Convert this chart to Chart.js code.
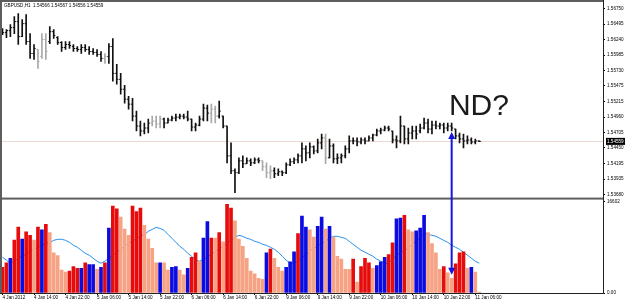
<!DOCTYPE html>
<html>
<head>
<meta charset="utf-8">
<script src="https://cdn.jsdelivr.net/npm/chart.js@4.4.1/dist/chart.umd.min.js"></script>
<style>
  html, body { margin: 0; padding: 0; background: #fff; }
  #wrap { position: relative; width: 625px; height: 305px; }
</style>
</head>
<body>
<div id="wrap"><canvas id="chart" width="625" height="305"></canvas></div>
<script>
// GBPUSD H1, one row per hour
const opens = [
  1.56372,1.56356,1.56389,1.56438,1.56537,1.56290,1.56504,1.56208,1.56011,1.56077,
  1.55962,1.56241,1.56208,1.56372,1.56274,1.56192,1.56110,1.56159,1.56126,1.56093,
  1.56077,1.56110,1.56077,1.56044,1.56028,1.55995,1.55929,1.55962,1.56126,1.55683,
  1.55584,1.55420,1.55256,1.55174,1.54977,1.54813,1.54731,1.54780,1.54862,1.54895,
  1.54846,1.54928,1.54862,1.54911,1.54944,1.54960,1.54977,1.54960,1.54928,1.54796,
  1.54829,1.54928,1.55108,1.55026,1.55092,1.54977,1.54977,1.54813,1.54320,1.54074,
  1.54041,1.54238,1.54189,1.54238,1.54205,1.54254,1.54238,1.54140,1.54041,1.54074,
  1.54025,1.54058,1.54041,1.54172,1.54222,1.54254,1.54320,1.54435,1.54369,1.54468,
  1.54402,1.54534,1.54616,1.54287,1.54484,1.54271,1.54287,1.54320,1.54435,1.54567,
  1.54567,1.54550,1.54583,1.54567,1.54616,1.54665,1.54731,1.54747,1.54780,1.54731,
  1.54583,1.54567,1.54813,1.54599,1.54698,1.54731,1.54731,1.54780,1.54862,1.54763,
  1.54829,1.54813,1.54829,1.54780,1.54813,1.54763,1.54649,1.54599,1.54567,1.54583,
  1.54550,1.54566
];
const highs = [
  1.56422,1.56405,1.56487,1.56619,1.56668,1.56569,1.56652,1.56340,1.56159,1.56077,
  1.56340,1.56340,1.56455,1.56405,1.56290,1.56208,1.56208,1.56208,1.56159,1.56126,
  1.56159,1.56159,1.56126,1.56093,1.56077,1.56044,1.56011,1.56175,1.56258,1.55831,
  1.55683,1.55486,1.55305,1.55272,1.55059,1.54895,1.54862,1.54928,1.54977,1.54977,
  1.54977,1.54944,1.54944,1.54977,1.55010,1.55010,1.55010,1.55059,1.54928,1.54862,
  1.54977,1.55174,1.55157,1.55174,1.55141,1.55223,1.54977,1.54813,1.54534,1.54107,
  1.54287,1.54320,1.54287,1.54271,1.54287,1.54287,1.54238,1.54205,1.54156,1.54123,
  1.54107,1.54074,1.54205,1.54271,1.54287,1.54353,1.54534,1.54484,1.54534,1.54484,
  1.54599,1.54681,1.54681,1.54599,1.54517,1.54353,1.54353,1.54484,1.54649,1.54616,
  1.54616,1.54616,1.54616,1.54649,1.54681,1.54763,1.54780,1.54813,1.54813,1.54731,
  1.54649,1.54977,1.54813,1.54780,1.54813,1.54813,1.54846,1.54944,1.54928,1.54895,
  1.54895,1.54862,1.54862,1.54862,1.54862,1.54763,1.54698,1.54681,1.54649,1.54616,
  1.54599,1.54567
];
const lows = [
  1.56323,1.56274,1.56290,1.56340,1.56159,1.56290,1.56159,1.55929,1.55913,1.55765,
  1.55929,1.55913,1.56175,1.56258,1.56159,1.56044,1.56077,1.56093,1.56044,1.56044,
  1.56011,1.56044,1.55995,1.55995,1.55962,1.55880,1.55847,1.55847,1.55552,1.55502,
  1.55338,1.55190,1.55092,1.54895,1.54731,1.54649,1.54681,1.54698,1.54813,1.54780,
  1.54780,1.54780,1.54862,1.54895,1.54895,1.54928,1.54928,1.54895,1.54731,1.54731,
  1.54813,1.54895,1.54895,1.54862,1.54862,1.54944,1.54780,1.54205,1.54025,1.53713,
  1.54025,1.54123,1.54189,1.54156,1.54189,1.54205,1.54074,1.53959,1.53943,1.53959,
  1.53992,1.53992,1.54025,1.54156,1.54189,1.54205,1.54205,1.54238,1.54287,1.54353,
  1.54369,1.54435,1.54189,1.54287,1.54205,1.54189,1.54205,1.54287,1.54369,1.54517,
  1.54484,1.54517,1.54517,1.54567,1.54567,1.54649,1.54681,1.54731,1.54731,1.54534,
  1.54452,1.54534,1.54517,1.54517,1.54599,1.54599,1.54698,1.54763,1.54698,1.54681,
  1.54763,1.54763,1.54698,1.54731,1.54731,1.54599,1.54534,1.54452,1.54517,1.54517,
  1.54517,1.54556
];
const closes = [
  1.56356,1.56389,1.56438,1.56537,1.56290,1.56504,1.56208,1.56011,1.56093,1.55880,
  1.56241,1.56044,1.56372,1.56307,1.56192,1.56110,1.56159,1.56143,1.56093,1.56077,
  1.56110,1.56077,1.56044,1.56028,1.55995,1.55929,1.55962,1.56126,1.55683,1.55584,
  1.55420,1.55256,1.55174,1.54977,1.54813,1.54731,1.54780,1.54862,1.54895,1.54846,
  1.54928,1.54862,1.54911,1.54944,1.54960,1.54977,1.54960,1.54928,1.54796,1.54829,
  1.54928,1.55108,1.55026,1.55092,1.54977,1.55059,1.54813,1.54320,1.54074,1.54041,
  1.54238,1.54189,1.54238,1.54205,1.54254,1.54238,1.54140,1.54041,1.54074,1.54025,
  1.54058,1.54041,1.54172,1.54222,1.54254,1.54320,1.54435,1.54369,1.54468,1.54402,
  1.54534,1.54616,1.54287,1.54484,1.54271,1.54287,1.54320,1.54435,1.54567,1.54567,
  1.54550,1.54583,1.54567,1.54616,1.54665,1.54731,1.54747,1.54780,1.54763,1.54583,
  1.54567,1.54813,1.54599,1.54698,1.54731,1.54681,1.54780,1.54862,1.54763,1.54829,
  1.54813,1.54829,1.54780,1.54813,1.54780,1.54649,1.54599,1.54567,1.54583,1.54550,
  1.54567,1.54559
];
// bars drawn in the pale grey colour
const paleBars = [9,10,11,26,38,39,40,53,54,66,67,68,82];

// tick volume and its average (lower pane)
const volumes = [
  4650,5480,6310,9630,11950,9800,11120,10460,9630,11950,
  11460,12450,10960,7300,6810,4150,3820,3980,4810,4480,
  4480,5480,5150,5150,4320,4650,5480,11790,15770,15270,
  13780,11620,10460,15770,14780,15440,12290,9800,8130,5480,
  5480,5480,4150,4650,4810,4150,3320,4480,6470,7300,
  5810,9960,12950,9960,9960,10960,9300,16100,15440,13120,
  9800,8470,6310,3980,3490,2660,2490,7300,7970,6310,
  4650,3980,4650,5640,7470,10790,13950,11950,11460,10130,
  12120,13780,11620,12120,10130,6640,6140,4320,4320,6140,
  1990,4810,6310,5480,4480,4980,5640,6470,6970,9130,
  13450,13610,14110,11460,11120,11290,11790,14110,10960,8970,
  7300,4320,4810,3650,2660,5310,7300,7470,4480,4650,
  3820,170
];
// r = red, b = blue, s = pale (salmon) volume bar
const volKind = ("rrbrrbrrsr" + "brsssssrrr" + "brbbsbrbrr" + "sssrrrssss" +
  "bssbbssbrr" + "sbbrsrsrrs" + "sssssssbrs" + "ssbbbrbbss" + "bbsbsssssr" +
  "srrrsbbbrr" + "bbrssbbbss" + "ssrssrrrsb" + "ss").split("");
const volAverage = [
  6500,5960,5410,5770,6320,6680,7040,7580,7940,8300,
  8660,9020,9200,9560,9750,9750,9560,9200,8660,8300,
  7760,7220,6860,6320,5770,5410,5770,6320,6860,7400,
  7940,8480,9020,9380,9930,10290,10650,11190,11550,11910,
  11730,11370,10650,9930,9200,8480,7940,7220,6680,5960,
  5770,6140,6500,7040,7580,7940,8480,9020,9560,10110,
  10470,10290,9930,9750,9380,9200,8840,8660,8300,7940,
  7400,6680,5960,5410,5410,5770,6320,7040,7580,8120,
  8480,9020,9380,9930,10290,10290,10110,9930,9380,8840,
  8300,7760,7400,7040,6680,6140,5770,5410,5410,6140,
  6860,7220,7760,8120,8840,9380,10110,10830,10650,10470,
  10290,9930,9560,9200,8660,8300,7940,7400,6860,6320,
  5770,5410
];

// axes
const timeTickIdx = [0,8,16,24,32,40,48,56,64,72,80,88,96,104,112,120];
const timeLabels = ["4 Jan 2012","4 Jan 14:00","4 Jan 22:00","5 Jan 06:00","5 Jan 14:00",
  "5 Jan 22:00","6 Jan 06:00","6 Jan 14:00","6 Jan 22:00","9 Jan 06:00","9 Jan 14:00",
  "9 Jan 22:00","10 Jan 06:00","10 Jan 14:00","10 Jan 22:00","11 Jan 06:00"];
const priceTicks = [1.56750,1.56495,1.56240,1.55985,1.55730,1.55475,1.55215,
  1.54960,1.54705,1.54450,1.54195,1.53935,1.53680];
const priceTickLabels = ["1.56750","1.56495","1.56240","1.55985","1.55730","1.55475","1.55215",
  "1.54960","1.54705","1.54450","1.54195","1.53935","1.53680"];
const volTicks = [0, 16602];
const volTickLabels = ["0.00", "16602"];

const symbolTitle = "GBPUSD,H1  1.54566 1.54567 1.54556 1.54559";
const note = { text: "ND?", index: 113.3, price: 1.5499 };
const arrowNote = { index: 114, fromPrice: 1.54712, toVolume: 3300 };

const FONT = "'Liberation Sans', Arial, sans-serif";
const small = { family: FONT, size: 4.6 };

const idx = opens.map((_, i) => i);
const barTone = i => paleBars.includes(i) ? "#a9a9a9" : "#111111";
const volColor = { r: "#e60c0c", b: "#0c0ce0", s: "#f6a284" };

const mt4 = {
  id: "mt4",
  beforeDatasetsDraw(chart) {
    // bid line
    const { ctx, chartArea: a, scales } = chart;
    const y = Math.round(scales.yP.getPixelForValue(closes[closes.length - 1])) + 0.5;
    ctx.save();
    ctx.strokeStyle = "#ead8d2";
    ctx.lineWidth = 1;
    ctx.beginPath(); ctx.moveTo(a.left, y); ctx.lineTo(a.right, y); ctx.stroke();
    ctx.restore();
  },
  afterDatasetsDraw(chart) {
    // open / close ticks
    const { ctx, chartArea: a, scales } = chart;
    const xs = scales.x, yp = scales.yP;
    ctx.save();
    ctx.beginPath(); ctx.rect(a.left, yp.top, a.width, yp.height); ctx.clip();
    idx.forEach(i => {
      const x = xs.getPixelForValue(i);
      ctx.fillStyle = barTone(i);
      ctx.fillRect(x - 1.6, yp.getPixelForValue(opens[i]) - 0.5, 1.6, 1);
      ctx.fillRect(x, yp.getPixelForValue(closes[i]) - 0.5, 1.6, 1);
    });
    ctx.restore();
  },
  afterDraw(chart) {
    const { ctx, chartArea: a, scales } = chart;
    const xs = scales.x, yp = scales.yP, yv = scales.yV;
    ctx.save();
    // frame
    ctx.fillStyle = "#5e5e5e";
    ctx.fillRect(0, 0, a.right + 1, 2);
    ctx.fillRect(0, 0, 2, a.bottom + 1);
    ctx.fillRect(0, yp.bottom - 1, a.right + 1, 2);
    ctx.fillStyle = "#222";
    ctx.fillRect(a.right, 0, 1, a.bottom + 1);
    ctx.fillRect(0, a.bottom, a.right + 1, 1);

    // title
    ctx.fillStyle = "#000";
    ctx.font = "4.6px " + FONT;
    ctx.textBaseline = "middle";
    ctx.textAlign = "left";
    ctx.fillText(symbolTitle, 4, 6);

    // current price box
    const last = closes[closes.length - 1];
    const yc = yp.getPixelForValue(last);
    ctx.fillStyle = "#000";
    ctx.fillRect(a.right + 3, yc - 3.5, 625 - a.right - 3, 7);
    ctx.fillStyle = "#fff";
    ctx.fillText(last.toFixed(5), a.right + 4, yc);

    // annotation text
    ctx.fillStyle = "#1a1a1a";
    ctx.font = "30px " + FONT;
    ctx.textBaseline = "alphabetic";
    ctx.fillText(note.text, xs.getPixelForValue(note.index), yp.getPixelForValue(note.price));

    // arrow
    const ax = xs.getPixelForValue(arrowNote.index);
    const y1 = yp.getPixelForValue(arrowNote.fromPrice);
    const y2 = yv.getPixelForValue(arrowNote.toVolume);
    ctx.strokeStyle = ctx.fillStyle = "#1515dc";
    ctx.lineWidth = 2;
    ctx.beginPath(); ctx.moveTo(ax, y1 + 5); ctx.lineTo(ax, y2 - 5); ctx.stroke();
    ctx.beginPath(); ctx.moveTo(ax, y1); ctx.lineTo(ax - 3.5, y1 + 7); ctx.lineTo(ax + 3.5, y1 + 7); ctx.fill();
    ctx.beginPath(); ctx.moveTo(ax, y2); ctx.lineTo(ax - 3.5, y2 - 7); ctx.lineTo(ax + 3.5, y2 - 7); ctx.fill();
    ctx.restore();
  }
};

new Chart(document.getElementById("chart"), {
  type: "bar",
  plugins: [mt4],
  data: {
    datasets: [
      {
        // high-low range of each price bar
        yAxisID: "yP",
        data: idx.map(i => ({ x: i, y: [lows[i], highs[i]] })),
        backgroundColor: idx.map(barTone),
        barThickness: 1,
        grouped: false
      },
      {
        yAxisID: "yV",
        data: idx.map(i => ({ x: i, y: volumes[i] })),
        backgroundColor: volKind.map(k => volColor[k]),
        barThickness: 3,
        grouped: false
      },
      {
        type: "line",
        yAxisID: "yV",
        data: idx.map(i => ({ x: i, y: volAverage[i] })),
        borderColor: "#2890ea",
        borderWidth: 1,
        pointRadius: 0,
        tension: 0
      }
    ]
  },
  options: {
    responsive: false,
    devicePixelRatio: 1,
    animation: false,
    layout: { padding: { left: 2, top: 3, right: 0, bottom: 0 } },
    plugins: { legend: { display: false }, tooltip: { enabled: false } },
    scales: {
      x: {
        type: "linear",
        offset: false,
        min: -0.127,
        max: 152.41,
        afterBuildTicks: s => { s.ticks = timeTickIdx.map(v => ({ value: v })); },
        afterFit: s => { s.height = 12; },
        ticks: {
          autoSkip: false, maxRotation: 0, minRotation: 0, align: "start", padding: 0,
          color: "#000", font: small,
          callback: (v, i) => timeLabels[i]
        },
        grid: { offset: false, drawOnChartArea: false, tickLength: 2, color: "#000" },
        border: { display: false }
      },
      yP: {
        type: "linear",
        position: "right",
        stack: "panes",
        stackWeight: 195,
        min: 1.536143,
        max: 1.568157,
        afterBuildTicks: s => { s.ticks = priceTicks.map(v => ({ value: v })); },
        afterFit: s => { s.width = 22; },
        ticks: { autoSkip: false, padding: 2, color: "#000", font: small, callback: (v, i) => priceTickLabels[i] },
        grid: { drawOnChartArea: false, tickLength: 2, color: "#000" },
        border: { display: false }
      },
      yV: {
        type: "linear",
        position: "right",
        stack: "panes",
        stackWeight: 95,
        min: 0,
        max: 17143,
        afterBuildTicks: s => { s.ticks = volTicks.map(v => ({ value: v })); },
        afterFit: s => { s.width = 22; },
        ticks: { autoSkip: false, padding: 2, color: "#000", font: small, callback: (v, i) => volTickLabels[i] },
        grid: { drawOnChartArea: false, tickLength: 2, color: "#000" },
        border: { display: false }
      }
    }
  }
});
</script>
</body>
</html>
